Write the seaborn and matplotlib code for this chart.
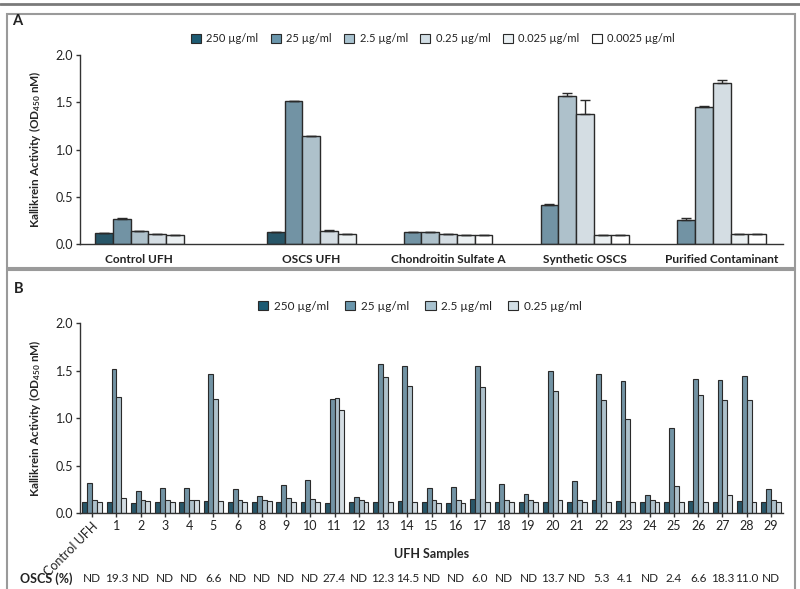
import numpy as np
import pandas as pd
import matplotlib.pyplot as plt
import seaborn as sns
from matplotlib.patches import Patch, Rectangle
from matplotlib.lines import Line2D

# ---- data panel A ----
conc_a = ["250 µg/ml", "25 µg/ml", "2.5 µg/ml", "0.25 µg/ml", "0.025 µg/ml", "0.0025 µg/ml"]
groups_a = ["Control UFH", "OSCS UFH", "Chondroitin Sulfate A", "Synthetic OSCS", "Purified Contaminant"]
nan = np.nan
control_ufh = [0.116, 0.262, 0.137, 0.106, 0.098, nan]
oscs_ufh = [0.127, 1.509, 1.143, 0.141, 0.106, nan]
chondroitin = [nan, 0.127, 0.127, 0.109, 0.100, 0.096]
synthetic_oscs = [nan, 0.416, 1.570, 1.376, 0.099, 0.097]
purified = [nan, 0.257, 1.453, 1.700, 0.103, 0.101]
control_err = [0.0, 0.008, 0.0, 0.0, 0.0, nan]
oscs_err = [0.0, 0.008, 0.005, 0.008, 0.0, nan]
chondroitin_err = [nan, 0.003, 0.0, 0.0, 0.0, 0.0]
synthetic_err = [nan, 0.012, 0.03, 0.15, 0.0, 0.0]
purified_err = [nan, 0.02, 0.005, 0.04, 0.005, 0.005]

# ---- data panel B ----
conc_b = conc_a[:4]
samples = ["Control UFH", "1", "2", "3", "4", "5", "6", "8", "9", "10", "11", "12", "13", "14",
           "15", "16", "17", "18", "19", "20", "21", "22", "23", "24", "25", "26", "27", "28", "29"]
b250 = [0.119, 0.119, 0.108, 0.115, 0.112, 0.122, 0.119, 0.112, 0.112, 0.119, 0.108, 0.115, 0.119, 0.122,
        0.112, 0.108, 0.147, 0.112, 0.112, 0.115, 0.115, 0.133, 0.129, 0.112, 0.115, 0.122, 0.115, 0.126, 0.112]
b25 = [0.312, 1.520, 0.228, 0.262, 0.259, 1.468, 0.252, 0.178, 0.298, 0.343, 1.204, 0.172, 1.566, 1.552,
       0.259, 0.270, 1.548, 0.301, 0.199, 1.495, 0.333, 1.468, 1.387, 0.193, 0.899, 1.408, 1.405, 1.447, 0.252]
b2_5 = [0.140, 1.225, 0.140, 0.140, 0.140, 1.197, 0.140, 0.140, 0.154, 0.143, 1.211, 0.140, 1.436, 1.337,
        0.140, 0.140, 1.331, 0.140, 0.140, 1.289, 0.140, 1.193, 0.986, 0.140, 0.287, 1.239, 1.193, 1.193, 0.140]
b0_25 = [0.115, 0.157, 0.122, 0.119, 0.133, 0.122, 0.119, 0.122, 0.119, 0.112, 1.089, 0.115, 0.112, 0.119,
         0.108, 0.108, 0.119, 0.112, 0.112, 0.136, 0.112, 0.112, 0.119, 0.112, 0.112, 0.112, 0.185, 0.119, 0.112]
oscs_pct = ["ND", "19.3", "ND", "ND", "ND", "6.6", "ND", "ND", "ND", "ND", "27.4", "ND", "12.3", "14.5",
            "ND", "ND", "6.0", "ND", "ND", "13.7", "ND", "5.3", "4.1", "ND", "2.4", "6.6", "18.3", "11.0", "ND"]

colors = ["#1d5b73", "#6a96ac", "#a9c3d0", "#d2dee5", "#eaf0f3", "#ffffff"]
edge = "#2a2a2a"

sns.set_theme(style="white")
plt.rcParams['font.family'] = ['Lato', 'DejaVu Sans']
plt.rcParams['mathtext.fontset'] = 'custom'
plt.rcParams['mathtext.rm'] = 'Lato'
plt.rcParams['mathtext.bf'] = 'Lato:bold'
plt.rcParams['mathtext.it'] = 'Lato:italic'
plt.rcParams['text.color'] = '#222222'
plt.rcParams['xtick.color'] = '#222222'
plt.rcParams['ytick.color'] = '#222222'

fig = plt.figure(figsize=(8, 5.89), dpi=100)

# frame boxes
H = 589.0
fig.add_artist(Line2D([0, 1], [1 - 3.5 / H, 1 - 3.5 / H], color="#7a7a7a", lw=2))
fig.add_artist(Rectangle((7 / 800, 1 - 268 / H), 788 / 800, 254 / H, fill=False, ec="#9a9a9a", lw=1.5))
fig.add_artist(Rectangle((7 / 800, -0.02), 788 / 800, 1 - 270 / H + 0.02, fill=False, ec="#9a9a9a", lw=1.5))
fig.text(12 / 800, 1 - 21 / H, "A", fontsize=10.5, fontweight="bold", va="center")
fig.text(14 / 800, 1 - 289 / H, "B", fontsize=10.5, fontweight="bold", va="center")

# ---- panel A ----
axA = fig.add_axes([0.1, 1 - 244 / H, 0.8788, 189 / H])
vals_a = [control_ufh, oscs_ufh, chondroitin, synthetic_oscs, purified]
errs_a = [control_err, oscs_err, chondroitin_err, synthetic_err, purified_err]
group_gap = [0, 4.69, 2.71, 2.71, 2.71]
rows = []
left = 0.0
tick_pos = []
for g, name in enumerate(groups_a):
    left += group_gap[g]
    k = 0
    centers = []
    for c, lab in enumerate(conc_a):
        v = vals_a[g][c]
        if np.isnan(v):
            continue
        pos = left + k + 0.5
        rows.append(dict(group=name, conc=lab, value=v, err=errs_a[g][c], pos=pos))
        centers.append(pos)
        k += 1
    tick_pos.append(np.mean(centers))
    left += k
dfA = pd.DataFrame(rows)
sns.barplot(data=dfA, x="pos", y="value", hue="conc", hue_order=conc_a,
            palette=dict(zip(conc_a, colors)), native_scale=True, dodge=False,
            width=1.0, edgecolor=edge, linewidth=1.0, legend=False, ax=axA)
axA.errorbar(dfA["pos"], dfA["value"], yerr=[np.zeros(len(dfA)), dfA["err"]],
             fmt="none", ecolor=edge, elinewidth=1.0, capsize=3.5, capthick=1.0)
axA.set_xlim(-0.85, left + 0.96)
axA.set_ylim(0, 2.0)
axA.set_yticks([0, 0.5, 1.0, 1.5, 2.0])
axA.set_yticklabels(["0.0", "0.5", "1.0", "1.5", "2.0"])
axA.set_xticks(tick_pos)
axA.set_xticklabels(groups_a, fontweight="bold", fontsize=8.6)
axA.set_xlabel("")

handlesA = [Patch(facecolor=c, edgecolor=edge, lw=0.8) for c in colors]
fig.legend(handlesA, conc_a, loc="center", bbox_to_anchor=(433 / 800, 1 - 39 / H), ncol=6,
           frameon=False, fontsize=8, handlelength=0.9, handleheight=0.9, handletextpad=0.5,
           columnspacing=1.1)

# ---- panel B ----
axB = fig.add_axes([0.1, 1 - 513 / H, 0.8788, 189.7 / H])
dfB = pd.DataFrame({"sample": samples * 4,
                    "conc": sum([[c] * len(samples) for c in conc_b], []),
                    "value": b250 + b25 + b2_5 + b0_25})
sns.barplot(data=dfB, x="sample", y="value", hue="conc", hue_order=conc_b,
            palette=dict(zip(conc_b, colors[:4])), width=0.8, edgecolor=edge,
            linewidth=0.8, legend=False, ax=axB)
axB.set_ylim(0, 2.0)
axB.set_yticks([0, 0.5, 1.0, 1.5, 2.0])
axB.set_yticklabels(["0.0", "0.5", "1.0", "1.5", "2.0"])
axB.set_xlabel("UFH Samples", fontweight="bold", fontsize=9)
axB.xaxis.set_label_coords(0.5, -0.185)
lbls = axB.get_xticklabels()
lbls[0].set_rotation(45)
lbls[0].set_ha("right")
lbls[0].set_rotation_mode("anchor")
for i, t in enumerate(oscs_pct):
    axB.text(i, -0.345, t, transform=axB.get_xaxis_transform(), ha="center", va="center", fontsize=8.5)
fig.text(20 / 800, 1 - 579 / H, "OSCS (%)", fontsize=9, fontweight="bold", va="center")

handlesB = [Patch(facecolor=c, edgecolor=edge, lw=0.8) for c in colors[:4]]
fig.legend(handlesB, conc_b, loc="center", bbox_to_anchor=(420 / 800, 1 - 306 / H), ncol=4,
           frameon=False, fontsize=8.5, handlelength=0.9, handleheight=0.9, handletextpad=0.5,
           columnspacing=1.3)

for ax in (axA, axB):
    sns.despine(ax=ax)
    ax.spines["left"].set_color("#333333")
    ax.spines["bottom"].set_color("#333333")
    ax.spines["left"].set_linewidth(1.0)
    ax.spines["bottom"].set_linewidth(1.0)
    ax.tick_params(axis="y", left=True, length=3, width=1, color="#333333", labelsize=9, pad=2)
    ax.set_ylabel(r"Kallikrein Activity (OD$_{\mathbf{450}}$ nM)", fontweight="bold", fontsize=8.5)
    ax.yaxis.set_label_coords(-0.052, 0.5)
axA.tick_params(axis="x", bottom=False, pad=1)
axB.tick_params(axis="x", bottom=True, length=3, width=1, color="#333333", labelsize=9, pad=2)

fig.savefig("out.png", dpi=100)
